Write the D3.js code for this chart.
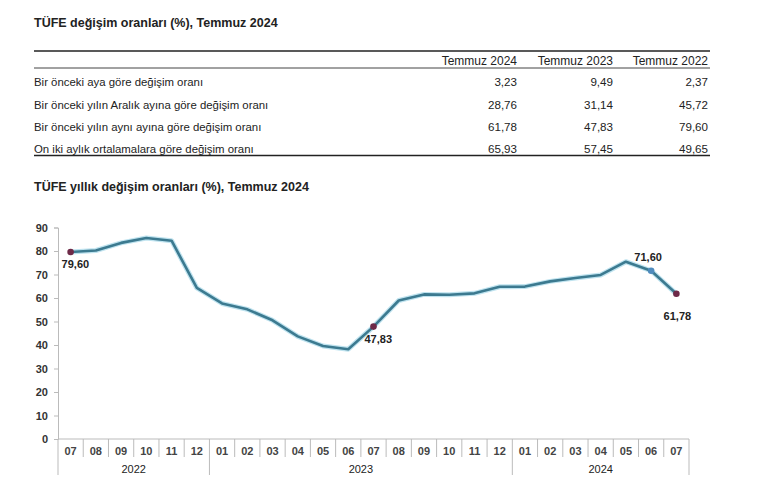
<!DOCTYPE html>
<html><head><meta charset="utf-8">
<script src="https://cdn.jsdelivr.net/npm/d3@7"></script>
<style>
body{margin:0;background:#fff;}
svg{font-family:"Liberation Sans",Arial,sans-serif;}
</style></head>
<body><svg id="c" width="770" height="491"></svg>
<script>
// ---- Table data ----
const tableTitle = "TÜFE değişim oranları (%), Temmuz 2024";
const tableColumns = ["Temmuz 2024", "Temmuz 2023", "Temmuz 2022"];
const tableRows = [
  "Bir önceki aya göre değişim oranı",
  "Bir önceki yılın Aralık ayına göre değişim oranı",
  "Bir önceki yılın aynı ayına göre değişim oranı",
  "On iki aylık ortalamalara göre değişim oranı"
];
const tableValues = [
  ["3,23", "9,49", "2,37"],
  ["28,76", "31,14", "45,72"],
  ["61,78", "47,83", "79,60"],
  ["65,93", "57,45", "49,65"]
];

// ---- Chart data ----
const chartTitle = "TÜFE yıllık değişim oranları (%), Temmuz 2024";
const months = ["07","08","09","10","11","12","01","02","03","04","05","06","07","08","09","10","11","12","01","02","03","04","05","06","07"];
const monthYears = [2022,2022,2022,2022,2022,2022,2023,2023,2023,2023,2023,2023,2023,2023,2023,2023,2023,2023,2024,2024,2024,2024,2024,2024,2024];
const values = [79.60,80.21,83.45,85.51,84.39,64.27,57.68,55.18,50.51,43.68,39.59,38.21,47.83,58.94,61.53,61.36,61.98,64.77,64.86,67.07,68.50,69.80,75.45,71.60,61.78];
const years = [2022, 2023, 2024];
const yTicks = [0,10,20,30,40,50,60,70,80,90];
const highlights = [
  {i:0, label:"79,60", kind:"red", pos:"br"},
  {i:12, label:"47,83", kind:"red", pos:"br"},
  {i:23, label:"71,60", kind:"blue", pos:"t"},
  {i:24, label:"61,78", kind:"red", pos:"b"}
];

const svg = d3.select("#c");
const txt = "#222";

// ---- Table ----
svg.append("text").attr("x",34).attr("y",27).attr("font-size",12.5).attr("font-weight","bold").attr("fill",txt).text(tableTitle);
const tL = 34, tR = 710;
svg.append("line").attr("x1",tL).attr("x2",tR).attr("y1",51).attr("y2",51).attr("stroke","#222").attr("stroke-width",1.6);
svg.append("line").attr("x1",tL).attr("x2",tR).attr("y1",68).attr("y2",68).attr("stroke","#444").attr("stroke-width",1);
svg.append("line").attr("x1",tL).attr("x2",tR).attr("y1",155.5).attr("y2",155.5).attr("stroke","#222").attr("stroke-width",1.6);
const colX = [517, 613, 708];
tableColumns.forEach((c,j)=>{
  svg.append("text").attr("x",colX[j]).attr("y",64.5).attr("text-anchor","end").attr("font-size",12).attr("fill",txt).text(c);
});
const rowY = [86, 109, 131, 153];
tableRows.forEach((r,i)=>{
  svg.append("text").attr("x",tL).attr("y",rowY[i]-0.5).attr("font-size",11.4).attr("fill",txt).text(r);
  tableValues[i].forEach((v,j)=>{
    svg.append("text").attr("x",colX[j]).attr("y",rowY[i]-0.5).attr("text-anchor","end").attr("font-size",11.6).attr("fill",txt).text(v);
  });
});

// ---- Chart ----
svg.append("text").attr("x",34).attr("y",191).attr("font-size",12.5).attr("font-weight","bold").attr("fill",txt).text(chartTitle);

const x0 = 58, x1 = 689, yTop = 227.5, yBot = 439;
const x = d3.scaleBand().domain(d3.range(months.length)).range([x0,x1]).padding(0);
const y = d3.scaleLinear().domain([0,90]).range([yBot,yTop]);

// y axis
const yAxis = d3.axisLeft(y).tickValues(yTicks).tickSize(4).tickPadding(6).tickFormat(d3.format("d"));
const ya = svg.append("g").attr("transform",`translate(${x0},0)`).call(yAxis);
ya.select(".domain").attr("stroke","#bbb");
ya.selectAll(".tick line").attr("stroke","#bbb");
ya.selectAll(".tick text").attr("font-size",11).attr("font-weight","bold").attr("font-family","Liberation Sans, Arial, sans-serif").attr("fill","#333");

// x axis line
svg.append("line").attr("x1",x0).attr("x2",x1).attr("y1",yBot).attr("y2",yBot).attr("stroke","#bbb");
// month separators
const gx = svg.append("g");
months.forEach((m,i)=>{
  const left = x(i);
  const yearStart = i===0 || monthYears[i]!==monthYears[i-1];
  gx.append("line").attr("x1",left).attr("x2",left).attr("y1",yBot).attr("y2", yearStart ? 475 : 457).attr("stroke","#bbb");
  gx.append("text").attr("x",left + x.bandwidth()/2).attr("y",455).attr("text-anchor","middle").attr("font-size",11).attr("font-weight","bold").attr("fill","#444").text(m);
});
gx.append("line").attr("x1",x1).attr("x2",x1).attr("y1",yBot).attr("y2",475).attr("stroke","#bbb");
years.forEach(yr=>{
  const idx = monthYears.map((v,i)=>v===yr?i:-1).filter(i=>i>=0);
  const cx = (x(idx[0]) + x(idx[idx.length-1]) + x.bandwidth())/2;
  gx.append("text").attr("x",cx).attr("y",473).attr("text-anchor","middle").attr("font-size",11).attr("fill",txt).text(yr);
});

// line
const line = d3.line().x((d,i)=>x(i)+x.bandwidth()/2).y(d=>y(d));
svg.append("path").datum(values).attr("d",line).attr("fill","none").attr("stroke","#bfe3ef").attr("stroke-width",5).attr("stroke-linejoin","round");
svg.append("path").datum(values).attr("d",line).attr("fill","none").attr("stroke","#3c7a90").attr("stroke-width",2.6).attr("stroke-linejoin","round");

// highlights
highlights.forEach(h=>{
  const cx = x(h.i)+x.bandwidth()/2, cy = y(values[h.i]);
  svg.append("circle").attr("cx",cx).attr("cy",cy).attr("r",3.3).attr("fill", h.kind==="red" ? "#6e2a48" : "#4f8bbd");
  let tx = cx, ty = cy, anchor = "middle";
  if (h.pos==="br"){ tx = cx-9; ty = cy+16; anchor="start"; }
  else if (h.pos==="t"){ tx = cx-3; ty = cy-10; }
  else if (h.pos==="b"){ tx = cx+1; ty = cy+26; }
  svg.append("text").attr("x",tx).attr("y",ty).attr("text-anchor",anchor).attr("font-size",11).attr("font-weight","bold").attr("fill",txt).text(h.label);
});
</script></body></html>
